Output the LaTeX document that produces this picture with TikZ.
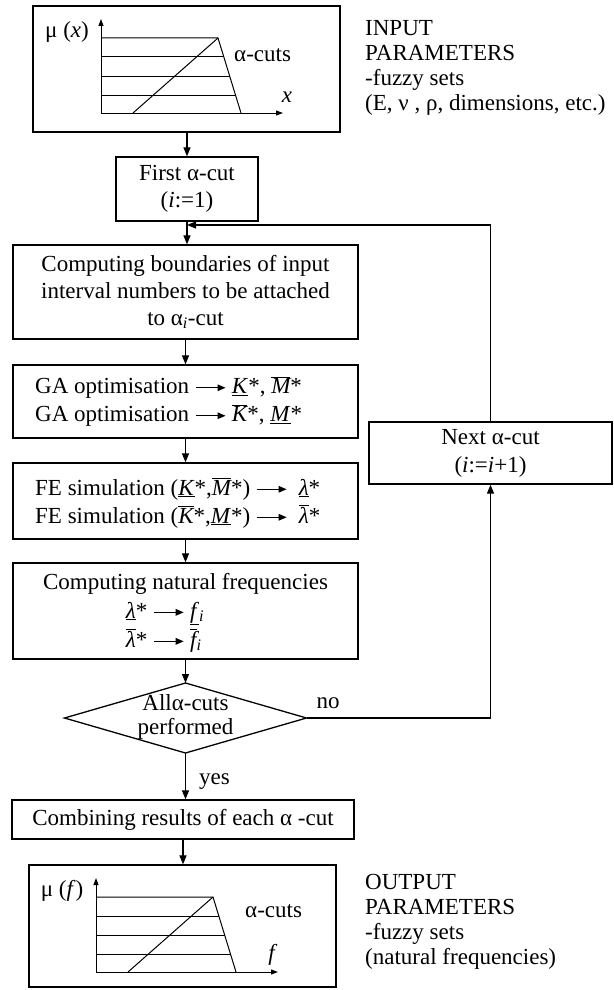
\documentclass[tikz,border=0pt]{standalone}
\usepackage{fontspec}
\setmainfont{Liberation Serif}
\usetikzlibrary{arrows.meta}
\tikzset{
  box/.style={draw, line width=1.3pt, inner sep=0pt, align=center},
  arr/.style={line width=1.2pt, -{Triangle[length=9pt,width=7pt]}},
  plotline/.style={line width=1pt},
  axarr/.style={line width=1pt, -{Triangle[length=7pt,width=5pt]}},
  txt/.style={inner sep=0pt, align=left},
  lbl/.style={inner sep=0pt},
}
\newcommand{\rarr}{\tikz[baseline=-0.55ex,x=1pt,y=1pt]\draw[line width=1.3pt,-{Triangle[length=8pt,width=6.5pt]}](0,0)--(30,0);}
\begin{document}
\begin{tikzpicture}[x=1pt,y=-1pt,font=\fontsize{23}{27}\selectfont]
\useasboundingbox (0,0) rectangle (613,990);

% ---------- input box ----------
\node[box, minimum width=307pt, minimum height=126pt] (inbox) at (186.5,69) {};
\coordinate (o1) at (101,113);
\draw[axarr] (o1) -- (101,19);
\draw[axarr] (o1) -- (283,113);
\draw[plotline] (101,38) -- (218,38) -- (241,113);
\draw[plotline] (133,113) -- (218,38);
\draw[plotline] (101,57) -- (223.8,57);
\draw[plotline] (101,76) -- (229.7,76);
\draw[plotline] (101,95) -- (235.5,95);
\node[lbl] (mux) at (67,32) {μ (\textit{x})};
\node[lbl, anchor=west] (acut1) at (234,55) {α-cuts};
\node[lbl] (xl) at (287,97) {\textit{x}};
\node[txt, anchor=west, font=\fontsize{23}{25}\selectfont] (intext) at (365,68)
  {INPUT\\PARAMETERS\\-fuzzy sets\\(E, ν , ρ, dimensions, etc.)};

% ---------- flow boxes ----------
\node[box, minimum width=142pt, minimum height=64pt] (first) at (187,189) {First α-cut\\(\textit{i}:=1)};
\node[box, minimum width=345pt, minimum height=94pt] (comp) at (185.5,292)
  {Computing boundaries of input\\interval numbers to be attached\\to α\textsubscript{\textit{i}}-cut};
\node[box, minimum width=345pt, minimum height=73pt] (ga) at (185.5,401.5) {};
\node[txt, anchor=west, font=\fontsize{23}{28}\selectfont] (gatext) at (35,401.5)
  {GA optimisation \rarr\ \underline{\textit{K}}*, $\overline{\textit{M}}$*\\
   GA optimisation \rarr\ $\overline{\textit{K}}$*, \underline{\textit{M}}*};
\node[box, minimum width=345pt, minimum height=76pt] (fe) at (185.5,501) {};
\node[txt, anchor=west, font=\fontsize{23}{28}\selectfont] (fetext) at (35,503)
  {FE simulation (\underline{\textit{K}}*,$\overline{\textit{M}}$*) \rarr\ \ \underline{\textit{λ}}*\\
   FE simulation ($\overline{\textit{K}}$*,\underline{\textit{M}}*) \rarr\ \ $\overline{\textit{λ}}$*};
\node[box, minimum width=345pt, minimum height=96pt] (nat) at (185.5,611) {};
\node[lbl] (nat1) at (185.5,584) {Computing natural frequencies};
\node[txt, font=\fontsize{23}{29}\selectfont] (nat2) at (165,627)
  {\underline{\textit{λ}}* \rarr\ \underline{\textit{f}}\textsubscript{\textit{i}}\\
   $\overline{\textit{λ}}$* \rarr\ $\overline{\textit{f}}$\textsubscript{\textit{i}}};

% ---------- decision ----------
\coordinate (dtop) at (185.5,683);
\coordinate (dbot) at (185.5,753);
\coordinate (dleft) at (64.5,718);
\coordinate (dright) at (306.5,718);
\draw[line width=1.3pt] (dtop) -- (dright) -- (dbot) -- (dleft) -- cycle;
\node[lbl, align=center, font=\fontsize{23}{24}\selectfont] (dtext) at (185.5,717) {Allα-cuts\\performed};

\node[box, minimum width=342pt, minimum height=39pt] (comb) at (183,819.5) {Combining results of each α -cut};

% ---------- next alpha-cut ----------
\node[box, minimum width=243pt, minimum height=62pt, font=\fontsize{23}{28}\selectfont] (next) at (490.5,453)
  {Next α-cut\\(\textit{i}:=\textit{i}+1)};

% ---------- output box ----------
\node[box, minimum width=307pt, minimum height=122pt] (outbox) at (182.5,926) {};
\coordinate (o2) at (96,972);
\draw[axarr] (o2) -- (96,878);
\draw[axarr] (o2) -- (278,972);
\draw[plotline] (96,897) -- (213,897) -- (236,972);
\draw[plotline] (128,972) -- (213,897);
\draw[plotline] (96,916) -- (218.8,916);
\draw[plotline] (96,935) -- (224.7,935);
\draw[plotline] (96,954) -- (230.5,954);
\node[lbl] (muf) at (62,891) {μ (\textit{f})};
\node[lbl, anchor=west] (acut2) at (245,911) {α-cuts};
\node[lbl] (fl) at (273,955) {\textit{f}};
\node[txt, anchor=west, font=\fontsize{23}{25}\selectfont] (outtext) at (365,921.5)
  {OUTPUT\\PARAMETERS\\-fuzzy sets\\(natural frequencies)};

% ---------- connectors ----------
\draw[arr] (first.north |- inbox.south) -- (first.north);
\draw[arr] (first.south) -- (first.south |- comp.north);
\draw[arr] (comp.south) -- (ga.north);
\draw[arr] (ga.south) -- (fe.north);
\draw[arr] (fe.south) -- (nat.north);
\draw[arr] (nat.south) -- (dtop);
\draw[arr] (dbot) -- (dbot |- comb.north);
\draw[arr] (comb.south) -- (comb.south |- outbox.north);
\coordinate (fb) at (187,225);
\draw[arr] (next.north) |- (fb);
\draw[arr] (dright) -| (next.south);
\node[lbl] (no) at (328,703) {no};
\node[lbl, anchor=west] (yes) at (199,782) {yes};
\end{tikzpicture}
\end{document}
